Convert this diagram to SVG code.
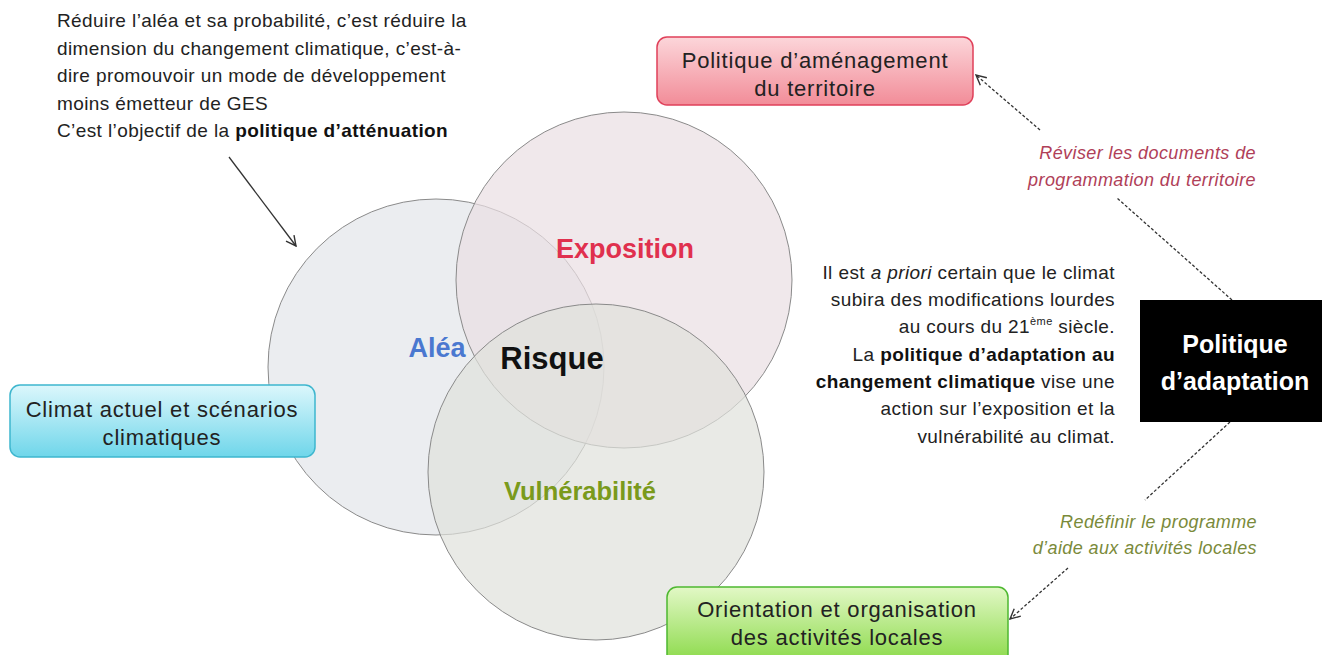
<svg xmlns="http://www.w3.org/2000/svg" width="1322" height="655" viewBox="0 0 1322 655">
<style>
text{font-family:"Liberation Sans",Arial,sans-serif;}
.para{font-size:19px;letter-spacing:0.4px;fill:#222;}
.box{font-size:22px;letter-spacing:0.8px;fill:#222;text-anchor:middle;}
.lbl{font-size:18px;letter-spacing:0.4px;font-style:italic;text-anchor:end;}
.circ{stroke:#8a8a8a;stroke-width:1;fill-opacity:0.7;}
.big{font-weight:bold;text-anchor:middle;}
.dash{fill:none;stroke:#333;stroke-width:1.3;stroke-dasharray:3,2;}
</style>
<defs>
<linearGradient id="gRed" x1="0" y1="0" x2="0" y2="1"><stop offset="0" stop-color="#fcd6da"/><stop offset="1" stop-color="#f28c98"/></linearGradient>
<linearGradient id="gCyan" x1="0" y1="0" x2="0" y2="1"><stop offset="0" stop-color="#dcf7fc"/><stop offset="1" stop-color="#6fd6ea"/></linearGradient>
<linearGradient id="gGreen" x1="0" y1="0" x2="0" y2="1"><stop offset="0" stop-color="#e2f8c6"/><stop offset="1" stop-color="#86d842"/></linearGradient>
<marker id="open" viewBox="0 0 12 12" refX="11" refY="6" markerWidth="12" markerHeight="12" markerUnits="userSpaceOnUse" orient="auto"><path d="M1,1 L11,6 L1,11" fill="none" stroke="#333" stroke-width="1.4"/></marker>
</defs>
<rect width="1322" height="655" fill="#ffffff"/>

<g id="circles">
<circle id="alea-circle" class="circ" cx="436" cy="367" r="168" fill="#e2e5ea"/>
<circle id="exposition-circle" class="circ" cx="624" cy="280" r="168" fill="#e9dee2"/>
<circle id="vulnerabilite-circle" class="circ" cx="596" cy="472" r="168" fill="#e0e1dc"/>
</g>

<g id="connectors">
<line x1="229" y1="157" x2="296" y2="246" stroke="#333" stroke-width="1.3" marker-end="url(#open)"/>
<line class="dash" x1="1232" y1="300" x2="1117" y2="198"/>
<line class="dash" x1="1040" y1="130" x2="976" y2="75" marker-end="url(#open)"/>
<line class="dash" x1="1230" y1="422" x2="1145" y2="500"/>
<line class="dash" x1="1068" y1="568" x2="1010" y2="619" marker-end="url(#open)"/>
</g>

<g id="text-attenuation">
<text class="para" x="57" y="27">Réduire l’aléa et sa probabilité, c’est réduire la</text>
<text class="para" x="57" y="55">dimension du changement climatique, c’est-à-</text>
<text class="para" x="57" y="82">dire promouvoir un mode de développement</text>
<text class="para" x="57" y="110">moins émetteur de GES</text>
<text class="para" x="57" y="137">C’est l’objectif de la <tspan font-weight="bold" fill="#111">politique d’atténuation</tspan></text>
</g>

<g id="node-amenagement">
<rect x="657" y="37" width="316" height="68" rx="10" fill="url(#gRed)" stroke="#e0405a" stroke-width="1.5"/>
<text class="box" x="815" y="68">Politique d’aménagement</text>
<text class="box" x="815" y="96">du territoire</text>
</g>

<g id="node-climat">
<rect x="10" y="385" width="305" height="72" rx="10" fill="url(#gCyan)" stroke="#3eb6ce" stroke-width="1.5"/>
<text class="box" x="162" y="417">Climat actuel et scénarios</text>
<text class="box" x="162" y="445">climatiques</text>
</g>

<g id="node-activites">
<rect x="667" y="587" width="341" height="80" rx="10" fill="url(#gGreen)" stroke="#4eb830" stroke-width="1.5"/>
<text class="box" x="837" y="617">Orientation et organisation</text>
<text class="box" x="837" y="645">des activités locales</text>
</g>

<g id="node-adaptation">
<rect x="1140" y="300" width="190" height="122" fill="#000"/>
<text class="big" x="1235" y="353" font-size="25" fill="#fff">Politique</text>
<text class="big" x="1235" y="390" font-size="25" fill="#fff">d’adaptation</text>
</g>

<g id="labels-circles">
<text class="big" x="625" y="258" font-size="27" fill="#e0304e">Exposition</text>
<text class="big" x="437" y="357" font-size="27" fill="#4a78d0">Aléa</text>
<text class="big" x="552" y="369" font-size="31" fill="#111">Risque</text>
<text class="big" x="580" y="500" font-size="25.5" fill="#7a9a1c">Vulnérabilité</text>
</g>

<g id="text-adaptation" text-anchor="end">
<text class="para" x="1115" y="279">Il est <tspan font-style="italic">a priori</tspan> certain que le climat</text>
<text class="para" x="1115" y="306">subira des modifications lourdes</text>
<text class="para" x="1115" y="333">au cours du 21<tspan font-size="11" dy="-8">ème</tspan><tspan dy="8"> siècle.</tspan></text>
<text class="para" x="1115" y="361">La <tspan font-weight="bold" fill="#111">politique d’adaptation au</tspan></text>
<text class="para" x="1115" y="388"><tspan font-weight="bold" fill="#111">changement climatique</tspan> vise une</text>
<text class="para" x="1115" y="415">action sur l’exposition et la</text>
<text class="para" x="1115" y="443">vulnérabilité au climat.</text>
</g>

<g id="label-reviser">
<text class="lbl" x="1256" y="159" fill="#b04058">Réviser les documents de</text>
<text class="lbl" x="1256" y="186" fill="#b04058">programmation du territoire</text>
</g>

<g id="label-redefinir">
<text class="lbl" x="1257" y="528" fill="#7a8a3a">Redéfinir le programme</text>
<text class="lbl" x="1257" y="554" fill="#7a8a3a">d’aide aux activités locales</text>
</g>
</svg>
